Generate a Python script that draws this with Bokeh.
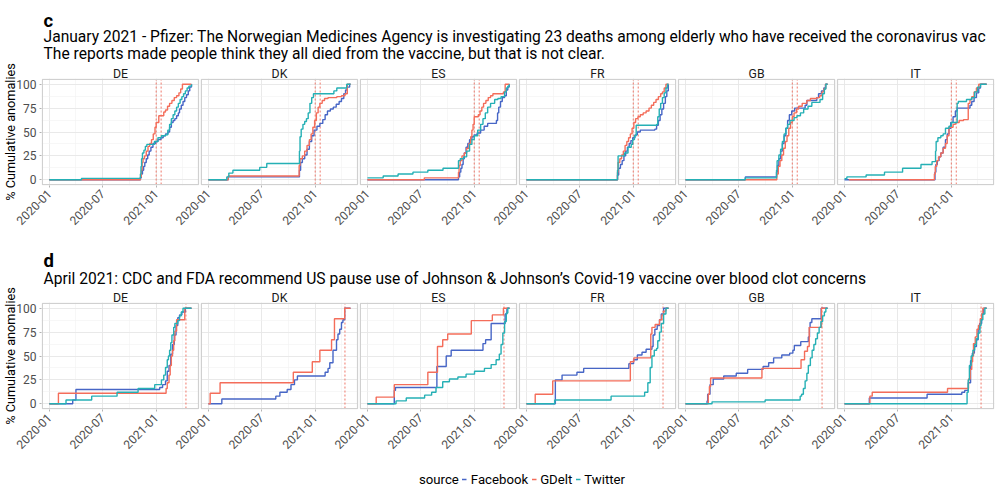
import math
from bokeh.plotting import figure
from bokeh.models import FixedTicker, Legend, LegendItem, Range1d, LinearAxis
from bokeh.layouts import column
from bokeh.core.properties import value
from bokeh.embed import file_html
from bokeh.resources import INLINE

FONT = "Roboto"

# ---------------- data ----------------
# x = days since 2020-01-01, y = % cumulative anomalies
COUNTRIES = ["DE", "DK", "ES", "FR", "GB", "IT"]
SOURCES = ["Facebook", "GDelt", "Twitter"]
COLORS = ["#4766C6", "#F46D5A", "#25B0B5"]
TICK_DAYS = [0, 182, 366]
TICK_LABELS = ["2020-01", "2020-07", "2021-01"]
MINOR_TICK_DAYS = [91, 274, 456]
Y_TICKS = [0, 25, 50, 75, 100]
Y_MINOR_TICKS = [12.5, 37.5, 62.5, 87.5]
EVENT_C = [366, 383]
EVENT_D = [468]

TAG_C = "c"
TITLE_C = ["January 2021 - Pfizer: The Norwegian Medicines Agency is investigating 23 deaths among elderly who have received the coronavirus vac",
           "The reports made people think they all died from the vaccine, but that is not clear."]
TAG_D = "d"
TITLE_D = ["April 2021: CDC and FDA recommend US pause use of Johnson & Johnson\u2019s Covid-19 vaccine over blood clot concerns"]

# panel c (January 2021 - Pfizer)
c_DE_fb = [(0,0),(312,2),(315,6),(319,10),(323,14),(327,18),(332,22),(337,26),(342,30),(348,34),(355,38),(364,40),(372,42),(382,44),(390,46),(398,48),(406,50),(412,55),(418,60),(424,62),(430,64),(436,67),(442,70),(446,74),(452,78),(458,82),(464,86),(470,89),(476,93),(481,97),(487,100)]
c_DE_gd = [(0,0),(312,3),(315,10),(318,18),(321,22),(326,25),(332,30),(338,35),(344,38),(350,42),(356,48),(362,55),(366,60),(375,67),(392,71),(398,73),(405,77),(412,80),(420,83),(428,86),(436,88),(444,91),(450,95),(456,100),(487,100)]
c_DE_tw = [(0,0),(110,1.5),(312,6),(314,14),(316,22),(319,28),(324,31),(329,35),(334,37),(360,40),(372,44),(384,46),(398,47),(406,52),(412,58),(418,64),(424,68),(430,72),(436,76),(442,80),(448,84),(454,87),(460,90),(466,93),(472,96),(478,98),(487,100)]

c_DK_fb = [(0,0),(68,3),(312,10),(316,18),(322,22),(330,26),(338,32),(346,40),(354,46),(362,52),(372,56),(382,59),(392,63),(400,68),(408,72),(418,74),(428,76),(438,79),(448,82),(456,85),(464,90),(470,94),(476,97),(484,100),(487,100)]
c_DK_gd = [(0,0),(68,4),(311,15),(314,22),(322,25),(330,30),(338,36),(346,42),(352,48),(358,55),(364,62),(370,70),(376,76),(382,80),(390,83),(398,85),(410,86),(440,87),(456,88),(468,90),(476,100),(487,100)]
c_DK_tw = [(0,0),(63,3),(70,7),(84,10),(176,13),(200,17),(312,30),(314,45),(318,53),(324,58),(330,61),(336,64),(342,70),(348,80),(354,86),(360,90),(430,93),(440,96),(474,100),(487,100)]

c_ES_fb = [(0,0),(312,3),(316,8),(320,12),(324,16),(328,22),(332,28),(338,34),(344,38),(350,42),(358,45),(366,47),(376,49),(388,52),(400,56),(412,59),(442,62),(446,70),(450,76),(456,82),(462,86),(470,88),(476,94),(481,97),(486,100)]
c_ES_gd = [(0,0),(195,2),(312,8),(314,15),(318,20),(324,25),(332,28),(340,33),(348,38),(354,45),(358,52),(362,58),(366,66),(380,68),(386,72),(392,76),(398,80),(406,83),(414,86),(422,88),(430,90),(466,92),(472,100),(487,100)]
c_ES_tw = [(0,2),(54,4),(105,6),(156,8),(207,10),(259,12),(312,20),(318,22),(330,24),(340,30),(350,37),(358,42),(366,46),(378,52),(388,58),(396,64),(404,70),(412,76),(422,80),(436,84),(447,85),(458,87),(470,92),(476,96),(481,98),(486,100)]

c_FR_fb = [(0,0),(312,5),(316,12),(322,16),(328,20),(334,25),(340,30),(346,34),(352,38),(358,41),(364,44),(372,47),(380,50),(390,52),(440,53),(446,57),(452,62),(458,68),(464,74),(470,80),(476,87),(481,93),(486,100)]
c_FR_gd = [(0,0),(312,8),(314,18),(320,22),(326,26),(332,30),(338,36),(344,40),(350,44),(356,48),(362,54),(368,60),(374,64),(382,66),(390,68),(400,70),(410,72),(420,75),(428,78),(436,81),(444,84),(452,87),(460,90),(466,92),(472,96),(478,100),(487,100)]
c_FR_tw = [(0,0),(312,10),(314,25),(336,28),(348,34),(359,37),(364,42),(370,46),(376,57),(446,58),(450,66),(455,74),(460,80),(466,86),(472,91),(478,96),(483,100),(487,100)]

c_GB_fb = [(0,0),(205,3),(312,8),(315,15),(320,22),(326,30),(332,38),(338,46),(344,54),(350,62),(356,68),(364,72),(374,75),(410,78),(416,83),(450,86),(456,90),(466,93),(474,96),(480,100),(487,100)]
c_GB_gd = [(0,0),(313,6),(318,14),(324,20),(330,26),(336,33),(342,40),(348,46),(354,54),(360,60),(366,66),(372,70),(380,74),(388,77),(400,80),(416,83),(428,85),(450,86),(460,88),(468,92),(474,95),(480,100),(487,100)]
c_GB_tw = [(0,0),(205,2),(312,10),(314,20),(320,26),(326,32),(332,40),(338,48),(344,54),(350,58),(358,62),(372,65),(382,67),(394,70),(405,74),(420,77),(433,81),(461,84),(470,90),(476,95),(481,100),(487,100)]

c_IT_fb = [(0,0),(310,8),(313,16),(318,20),(324,24),(330,28),(338,34),(346,42),(352,48),(358,54),(364,60),(372,66),(380,72),(386,75),(430,78),(436,82),(444,86),(452,91),(460,96),(466,100),(487,100)]
c_IT_gd = [(15,0),(308,6),(311,14),(316,20),(322,24),(330,28),(338,33),(346,38),(352,46),(358,55),(372,58),(380,60),(393,62),(408,63),(424,80),(430,84),(436,87),(444,92),(452,96),(460,100),(487,100)]
c_IT_tw = [(0,1),(8,3),(74,5),(137,8),(199,12),(262,16),(300,19),(312,30),(314,40),(320,44),(330,46),(338,48),(346,54),(358,56),(366,60),(386,80),(390,82),(418,84),(436,86),(446,92),(456,97),(466,100),(487,100)]

# panel d (April 2021 - Johnson & Johnson)
d_DE_fb = [(0,0),(80,4),(91,15),(378,17),(388,20),(398,24),(404,34),(410,40),(416,52),(422,62),(428,72),(434,82),(440,90),(446,93),(454,96),(466,100),(487,100)]
d_DE_gd = [(0,0),(31,11),(400,16),(404,22),(410,30),(414,40),(418,50),(422,56),(426,66),(430,76),(436,88),(464,100),(487,100)]
d_DE_tw = [(0,0),(57,4),(145,8),(232,12),(304,16),(361,20),(384,25),(392,30),(398,38),(404,46),(408,50),(412,56),(416,64),(420,72),(426,80),(430,84),(440,87),(446,92),(452,96),(458,100),(487,100)]

d_DK_fb = [(0,0),(46,5),(231,8),(245,12),(270,15),(283,20),(295,25),(305,29),(400,33),(410,37),(416,43),(427,56),(439,67),(444,73),(450,78),(456,85),(461,88),(467,100),(487,100)]
d_DK_gd = [(0,0),(6,11),(40,22),(291,33),(356,44),(382,56),(422,67),(432,89),(467,100),(487,100)]
d_DK_tw = None

d_ES_fb = [(0,0),(92,14),(96,17),(238,39),(270,50),(287,56),(396,63),(405,67),(424,84),(472,94),(478,100),(487,100)]
d_ES_gd = [(0,0),(30,7),(92,20),(207,33),(240,60),(258,67),(275,73),(356,87),(428,93),(466,100),(487,100)]
d_ES_tw = [(0,0),(98,3),(133,6),(196,9),(220,12),(235,17),(258,23),(281,26),(310,28),(338,31),(367,34),(401,37),(424,41),(441,46),(452,52),(458,62),(464,74),(470,86),(476,95),(481,100),(487,100)]

d_FR_fb = [(0,0),(99,25),(122,30),(173,33),(196,37),(351,42),(367,46),(380,51),(396,54),(410,57),(430,60),(434,72),(440,78),(448,82),(456,88),(462,94),(470,100),(487,100)]
d_FR_gd = [(0,0),(30,10),(90,24),(356,44),(368,48),(426,73),(430,80),(441,83),(456,88),(464,93),(470,97),(478,100),(487,100)]
d_FR_tw = [(0,0),(97,4),(290,8),(405,12),(416,22),(424,38),(430,50),(438,56),(446,58),(450,66),(456,75),(462,84),(470,94),(478,100),(487,100)]

d_GB_fb = [(0,0),(74,3),(76,10),(84,20),(95,26),(131,29),(174,32),(213,36),(266,39),(285,43),(302,48),(330,51),(357,53),(368,56),(373,61),(395,65),(421,70),(425,80),(427,85),(433,89),(465,100),(487,100)]
d_GB_gd = [(0,0),(78,10),(82,18),(86,27),(262,37),(396,46),(408,55),(418,60),(424,80),(466,100),(487,100)]
d_GB_tw = [(0,0),(91,2),(273,4),(393,8),(398,10),(404,16),(410,24),(416,32),(421,40),(428,48),(434,56),(440,62),(446,68),(452,74),(458,80),(464,86),(470,92),(476,96),(481,100),(487,100)]

d_IT_fb = [(0,0),(85,6),(283,10),(402,12),(412,14),(424,22),(432,45),(438,53),(445,60),(452,67),(458,78),(463,84),(470,94),(477,100),(487,100)]
d_IT_gd = [(0,0),(87,8),(95,12),(353,16),(425,26),(431,36),(436,44),(439,50),(442,63),(448,70),(454,78),(459,82),(465,89),(470,94),(474,100),(487,100)]
d_IT_tw = [(0,0),(420,12),(424,25),(428,40),(434,50),(440,56),(446,62),(452,68),(458,74),(464,82),(468,88),(474,94),(481,100),(487,100)]

PANELS_C = {"DE": [c_DE_fb, c_DE_gd, c_DE_tw], "DK": [c_DK_fb, c_DK_gd, c_DK_tw],
            "ES": [c_ES_fb, c_ES_gd, c_ES_tw], "FR": [c_FR_fb, c_FR_gd, c_FR_tw],
            "GB": [c_GB_fb, c_GB_gd, c_GB_tw], "IT": [c_IT_fb, c_IT_gd, c_IT_tw]}
PANELS_D = {"DE": [d_DE_fb, d_DE_gd, d_DE_tw], "DK": [d_DK_fb, d_DK_gd, d_DK_tw],
            "ES": [d_ES_fb, d_ES_gd, d_ES_tw], "FR": [d_FR_fb, d_FR_gd, d_FR_tw],
            "GB": [d_GB_fb, d_GB_gd, d_GB_tw], "IT": [d_IT_fb, d_IT_gd, d_IT_tw]}

# ---------------- layout constants ----------------
W = 996
LEFT = 41
X_LO, X_HI, PITCH = -24, 511, 545      # facet extent in days, distance between facets
Y_LO, Y_HI = -5, 105
PAD_X, PAD_Y = 3, 1
OFFSETS = [i * PITCH for i in range(len(COUNTRIES))]
X0 = X_LO - PAD_X
X1 = OFFSETS[-1] + X_HI + PAD_X
GRID_MAJOR = "#e6e6e6"
GRID_MINOR = "#f2f2f2"
BORDER = "#d0d0d0"
EVENT_COLOR = "#EE6A5A"
TITLE_SIZE = "15.6px"
STRIP_BAND = 12


def blank_figure(height, x_range, y_range):
    f = figure(width=W, height=height, output_backend="svg", toolbar_location=None, title=None,
               x_axis_location=None, y_axis_location=None,
               x_range=x_range, y_range=y_range,
               min_border_top=0, min_border_bottom=0, min_border_left=LEFT, min_border_right=2)
    f.outline_line_color = None
    f.grid.visible = False
    return f


def make_header(height, tag, tag_base, lines, line_bases):
    # header band; x shares the facet day scale (frames are aligned), y counts pixels downwards
    h = blank_figure(height, Range1d(X0, X1), Range1d(height, 0))
    h.text(x=[X_LO + 4], y=[tag_base], text=[tag], text_font=value(FONT), text_font_size="18.5px",
           text_font_style="bold", text_color="black", text_baseline="alphabetic", text_align="left")
    h.text(x=[X_LO + 4] * len(lines), y=line_bases, text=lines, text_font=value(FONT),
           text_font_size=TITLE_SIZE, text_color="black", text_baseline="alphabetic",
           text_align="left")
    return h


def make_row(panels, events, height, bottom, rends):
    p = figure(width=W, height=height, x_range=Range1d(X0, X1),
               y_range=Range1d(Y_LO - PAD_Y, Y_HI + PAD_Y),
               output_backend="svg", toolbar_location=None, title=None,
               min_border_top=STRIP_BAND, min_border_bottom=bottom,
               min_border_left=LEFT, min_border_right=2)
    p.outline_line_color = None
    p.background_fill_color = "white"
    p.border_fill_color = "white"

    # axes
    major = [o + d for o in OFFSETS for d in TICK_DAYS]
    minor = [o + d for o in OFFSETS for d in MINOR_TICK_DAYS]
    p.xaxis.ticker = FixedTicker(ticks=major, minor_ticks=minor)
    p.xaxis.major_label_overrides = {o + d: lab for o in OFFSETS for d, lab in zip(TICK_DAYS, TICK_LABELS)}
    p.xaxis.major_label_orientation = math.pi / 4
    p.yaxis.ticker = FixedTicker(ticks=Y_TICKS, minor_ticks=Y_MINOR_TICKS)
    for ax in (p.xaxis, p.yaxis):
        ax.axis_line_color = None
        ax.minor_tick_line_color = None
        ax.major_tick_line_color = "#b3b3b3"
        ax.major_tick_out = 2
        ax.major_tick_in = 0
        ax.major_label_text_font = FONT
        ax.major_label_text_font_size = "12px"
        ax.major_label_text_color = "#4d4d4d"
    p.xaxis.major_label_standoff = 2
    p.yaxis.major_label_standoff = 1
    p.yaxis.axis_label = "% Cumulative anomalies"
    p.yaxis.axis_label_text_font = FONT
    p.yaxis.axis_label_text_font_size = "12.7px"
    p.yaxis.axis_label_text_font_style = "normal"
    p.yaxis.axis_label_text_color = "black"
    p.yaxis.axis_label_standoff = -5

    for g in (p.xgrid, p.ygrid):
        g.grid_line_color = GRID_MAJOR
        g.grid_line_width = 0.9
        g.minor_grid_line_color = GRID_MINOR
        g.minor_grid_line_width = 0.6

    # facet strip labels: an axis above the panels with one tick per facet centre
    centers = [o + (X_LO + X_HI) / 2 for o in OFFSETS]
    strip = LinearAxis(ticker=FixedTicker(ticks=centers),
                       major_label_overrides={c: n for c, n in zip(centers, COUNTRIES)})
    strip.axis_line_color = None
    strip.major_tick_line_color = None
    strip.minor_tick_line_color = None
    strip.major_tick_out = 0
    strip.major_tick_in = 0
    strip.major_label_text_font = FONT
    strip.major_label_text_font_size = "12.3px"
    strip.major_label_text_color = "#1a1a1a"
    strip.major_label_standoff = -2
    p.add_layout(strip, "above")

    # white gaps between facets
    lefts = [X0] + [o + X_HI for o in OFFSETS]
    rights = [o + X_LO for o in OFFSETS] + [X1]
    p.quad(left=lefts, right=rights, bottom=Y_LO - PAD_Y, top=Y_HI + PAD_Y,
           fill_color="white", line_color=None)

    # event window lines
    ev = [o + e for o in OFFSETS for e in events]
    p.segment(x0=ev, y0=[Y_LO] * len(ev), x1=ev, y1=[Y_HI] * len(ev),
              line_color=EVENT_COLOR, line_width=0.9, line_dash="2 2")

    # series
    for o, c in zip(OFFSETS, COUNTRIES):
        for s, col, pts in zip(SOURCES, COLORS, panels[c]):
            if pts is None:
                continue
            r = p.step(x=[o + d for d, _ in pts], y=[v for _, v in pts], mode="after",
                       line_color=col, line_width=1.4)
            rends[s].append(r)

    # panel borders
    p.quad(left=[o + X_LO for o in OFFSETS], right=[o + X_HI for o in OFFSETS],
           bottom=Y_LO, top=Y_HI, fill_color=None, line_color=BORDER, line_width=1.2)
    return p


rends_c = {s: [] for s in SOURCES}
rends_d = {s: [] for s in SOURCES}
h1 = make_header(63, TAG_C, 20, TITLE_C, [36.7, 53.3])
p1 = make_row(PANELS_C, EVENT_C, height=177, bottom=55, rends=rends_c)
h2 = make_header(47, TAG_D, 20, TITLE_D, [38.3])
p2 = make_row(PANELS_D, EVENT_D, height=179, bottom=57, rends=rends_d)

# legend strip (keys for the three sources)
pl = blank_figure(26, Range1d(0, 1), Range1d(0, 1))
blank = pl.line(x=[-1, -1], y=[-1, -1], line_alpha=0)
keys = [pl.line(x=[-1, -1], y=[-1, -1], line_color=col, line_width=1.4) for col in COLORS]
items = [LegendItem(label="source", renderers=[blank])]
items += [LegendItem(label=s, renderers=[k]) for s, k in zip(SOURCES, keys)]
leg = Legend(items=items, orientation="horizontal", location="center",
             glyph_width=5, glyph_height=16, label_height=16, label_width=10,
             label_standoff=4, spacing=3, padding=0, margin=0,
             border_line_alpha=0, background_fill_alpha=0,
             label_text_font=FONT, label_text_font_size="13.2px", label_text_color="black")
pl.add_layout(leg)

layout = column(h1, p1, h2, p2, pl)
open("out.html", "w").write(file_html(layout, INLINE))
